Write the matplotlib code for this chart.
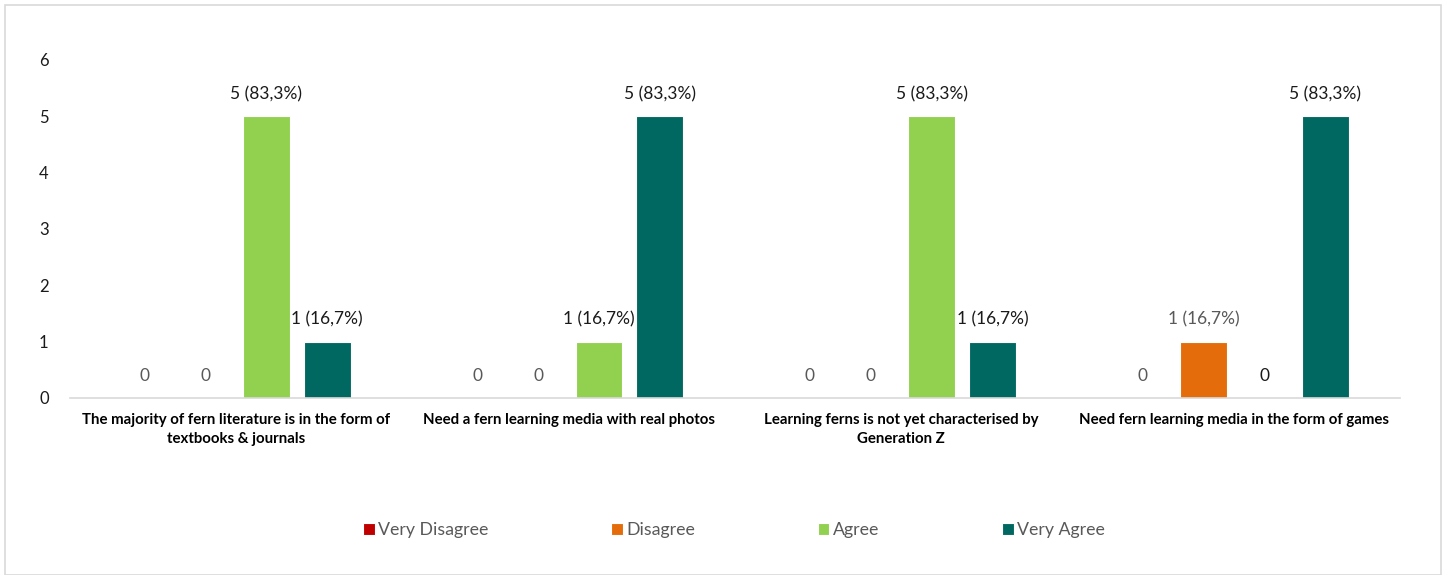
import matplotlib.pyplot as plt
import numpy as np
from matplotlib.patches import Rectangle

plt.rcParams['font.family'] = ['Lato', 'DejaVu Sans']

categories = [
    'The majority of fern literature is in the form of\ntextbooks & journals',
    'Need a fern learning media with real photos',
    'Learning ferns is not yet characterised by\nGeneration Z',
    'Need fern learning media in the form of games',
]
series = ['Very Disagree', 'Disagree', 'Agree', 'Very Agree']
very_disagree = [0, 0, 0, 0]
disagree = [0, 0, 0, 1]
agree = [5, 1, 5, 0]
very_agree = [1, 5, 1, 5]
very_disagree_lbl = ['0', '0', '0', '0']
disagree_lbl = ['0', '0', '0', '1 (16,7%)']
agree_lbl = ['5 (83,3%)', '1 (16,7%)', '5 (83,3%)', '0']
very_agree_lbl = ['1 (16,7%)', '5 (83,3%)', '1 (16,7%)', '5 (83,3%)']

colors = ['#C00000', '#E46C0A', '#92D050', '#006861']
values = [very_disagree, disagree, agree, very_agree]
labels = [very_disagree_lbl, disagree_lbl, agree_lbl, very_agree_lbl]

fig = plt.figure(figsize=(14.48, 5.75), dpi=100)
ax = fig.add_axes([0.048, 0.308, 0.919, 0.588])

x = np.arange(len(categories))
slot = 0.183
width = 0.141
for i, (name, vals, col, lbls) in enumerate(zip(series, values, colors, labels)):
    pos = x + (i - 1.5) * slot
    ax.bar(pos, vals, width, color=col, label=name, edgecolor='white', linewidth=0.8)
    for j, (p, v, t) in enumerate(zip(pos, vals, lbls)):
        # grey labels for the disagree side, dark for the agree side
        c = '#595959' if i < 2 else '#1a1a1a'
        ax.annotate(t, (p, v), xytext=(0, 22), textcoords='offset pixels',
                    ha='center', va='center', fontsize=12.5, color=c)

ax.set_ylim(0, 6)
ax.set_xlim(-0.5, len(categories) - 0.5)
ax.set_yticks(range(0, 7))
ax.set_xticks(x)
ax.set_xticklabels(categories, fontsize=10.8, fontweight='bold', color='#000000',
                   linespacing=1.45)
ax.tick_params(axis='y', length=0, labelsize=12, labelcolor='#1a1a1a', pad=15)
ax.tick_params(axis='x', length=0, pad=11)
for s in ['top', 'right', 'left']:
    ax.spines[s].set_visible(False)
ax.spines['bottom'].set_color('#d9d9d9')
ax.spines['bottom'].set_linewidth(1.2)

fig.legend(loc='center', bbox_to_anchor=(734 / 1448, 1 - 530 / 575), ncol=4, frameon=False,
           fontsize=12.8, labelcolor='#595959', handlelength=0.65, handleheight=0.65,
           handletextpad=0.2, columnspacing=6.9)

fig.patches.append(Rectangle((5 / 1448, 0), 1436 / 1448, 570 / 575, transform=fig.transFigure,
                             fill=False, edgecolor='#d9d9d9', linewidth=1.2))

fig.savefig('out.png', dpi=100)
